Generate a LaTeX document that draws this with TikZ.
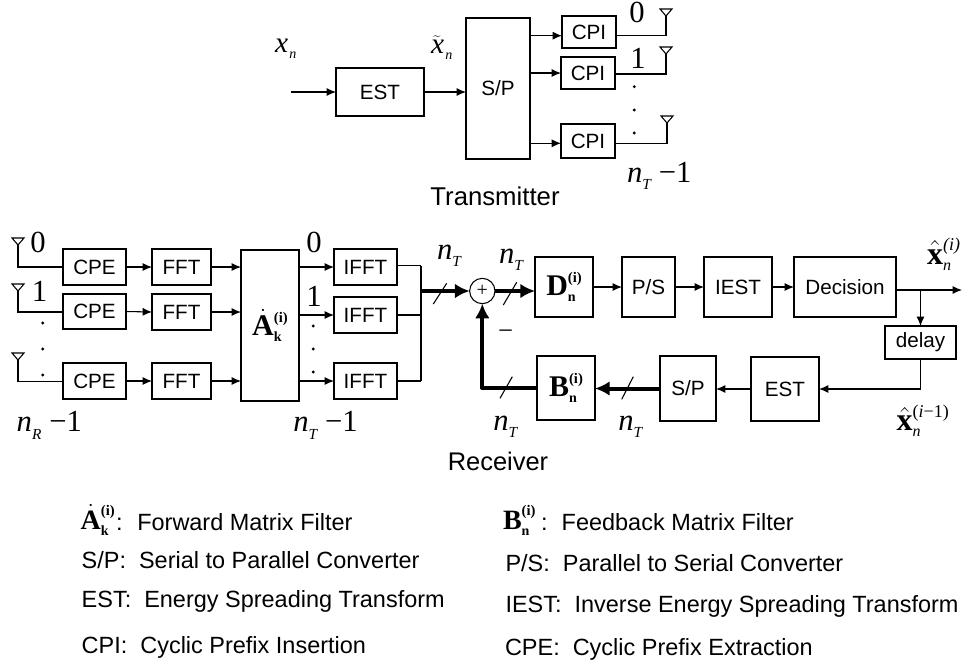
\documentclass[tikz,border=0pt]{standalone}
\usepackage{fontspec}
\setmainfont{Liberation Sans}
\newfontfamily\sr{Liberation Serif}
\usetikzlibrary{arrows.meta,calc}
\newcommand\fs[1]{\fontsize{#1}{#1}\selectfont}
% italic n with italic subscript
\newcommand\nsub[1]{{\sr\itshape\fs{23}n\raisebox{-5.5pt}{\fs{11.5}#1}}}
\newcommand\nm[1]{\nsub{#1}\kern6pt{\sr\fs{23}−1}}
\newcommand\xn{{\sr\itshape\fs{22}x\raisebox{-4.5pt}{\kern1pt\fs{10.5}n}}}
\newcommand\xt{{\sr\itshape\fs{22}$\widetilde{\mbox{x}}$\raisebox{-4.5pt}{\kern1pt\fs{10.5}n}}}
\newcommand\xh[1]{{\sr\bfseries\fs{24}$\hat{\mbox{x}}$\rlap{\raisebox{10pt}{\mdseries\fs{13.5}#1}}\raisebox{-4.5pt}{\mdseries\itshape\fs{12}n}}}
\newcommand\mat[3][22.5]{{\sr\bfseries\fs{#1}#2\rlap{\raisebox{-4.7pt}{\fs{10.5}#3}}\raisebox{10pt}{\fs{11}(i)}}}
\newcommand\dA{$\dot{\mbox{A}}$}
\newcommand\blk[6]{%
  \pgfmathsetmacro\bw{(#4-#2)*0.75}\pgfmathsetmacro\bh{(#5-#3)*0.75}%
  \pgfmathsetmacro\bx{(#2+#4)/2}\pgfmathsetmacro\by{(#3+#5)/2}%
  \node[blockbox,minimum width=\bw pt,minimum height=\bh pt] (#1) at (\bx,\by) {#6};}
\newcommand\antenna[1]{\draw[wire] (#1) -- ++(-6,-7) -- ++(12,0) -- cycle;}
\newcommand\tick[2]{\draw[wire] (#1) -- (#2);}
\begin{document}
\begin{tikzpicture}[x=0.75pt,y=-0.75pt,
  blockbox/.style={draw,line width=0.9pt,inner sep=0pt,outer sep=0pt,font=\fs{15.5},text=black},
  wire/.style={line width=0.8pt},
  arr/.style={wire,-{Latex[length=7pt,width=6pt]}},
  fat/.style={line width=3pt,line join=round,-{Latex[length=11pt,width=11pt]}},
  lab/.style={inner sep=0pt,outer sep=0pt,anchor=base west},
  ctr/.style={inner sep=0pt,outer sep=0pt,anchor=base},
  dotmark/.style={circle,fill=black,inner sep=0pt,minimum size=2.4pt},
  leg/.style={lab,font=\fs{17.6}},
  digit/.style={ctr,font=\sr\fs{23}}]
\useasboundingbox (0,0) rectangle (967,664);
% --- transmitter
\blk{tEst}{336}{68}{424}{116}{EST}
\blk{tSp}{466}{18}{530}{159}{S/P}
\blk{tc1}{562}{16}{616}{48}{CPI}
\blk{tc2}{561}{57}{615}{89}{CPI}
\blk{tc3}{561}{124}{615}{158}{CPI}
\coordinate (tIn) at (291,92);
\draw[arr] (tIn) -- (tEst.west);
\draw[arr] (tEst.east) -- (tEst.east -| tSp.west);
\draw[arr] (tSp.east |- 0,35.7) -- (tc1.west |- 0,35.7);
\draw[arr] (tSp.east |- tc2.west) -- (tc2.west);
\draw[arr] (tSp.east |- 0,143.3) -- (tc3.west |- 0,143.3);
\coordinate (ta1) at (666,16);
\coordinate (ta2) at (666,54);
\coordinate (ta3) at (667,123);
\draw[wire] (tc1.east |- 0,35.7) -| (ta1);
\draw[wire] (tc2.east |- 0,74) -| (ta2);
\draw[wire] (tc3.east |- 0,143.3) -| (ta3);
\antenna{ta1}\antenna{ta2}\antenna{ta3}
\node[digit] (tl0) at (637,22) {0};
\node[digit] (tl1) at (638,68) {1};
\node[dotmark] (td1) at (634.3,86.7) {};
\node[dotmark] (td2) at (634.3,110) {};
\node[dotmark] (td3) at (634.3,133) {};
\node[lab] (tn) at (627,182) {\nm{T}};
\node[lab] (tx) at (275,52) {\xn};
\node[lab] (txt) at (431,53) {\xt};
\node[ctr,font=\fs{19.3}] (tCap) at (495,205) {Transmitter};
% --- receiver, front end
\blk{c1}{63}{249}{126}{285}{CPE}
\blk{c2}{63}{294}{126}{329}{CPE}
\blk{c3}{63}{363}{126}{399}{CPE}
\blk{f1}{152}{249}{211}{285}{FFT}
\blk{f2}{152}{294}{211}{330}{FFT}
\blk{f3}{152}{363}{211}{399}{FFT}
\blk{mA}{241}{250}{299}{401}{\mat{\dA}{k}}
\blk{i1}{334}{249}{397}{285}{IFFT}
\blk{i2}{334}{297}{397}{333}{IFFT}
\blk{i3}{334}{363}{397}{399}{IFFT}
\coordinate (ra1) at (18,245);
\coordinate (ra2) at (18,291);
\coordinate (ra3) at (18,360);
\draw[wire] (ra1) |- (c1.west |- 0,267);
\draw[wire] (ra2) |- (c2.west |- 0,312);
\draw[wire] (ra3) |- (c3.west |- 0,381.7);
\antenna{ra1}\antenna{ra2}\antenna{ra3}
\foreach \k in {1,2,3}{
  \draw[arr] (c\k.east) -- (f\k.west);
  \draw[arr] (f\k.east) -- (f\k.east -| mA.west);
  \draw[arr] (i\k.west -| mA.east) -- (i\k.west);
}
\node[digit] (rl0) at (38,252) {0};
\node[digit] (rl1) at (39.5,301) {1};
\node[dotmark] (rd1) at (42.7,323) {};
\node[dotmark] (rd2) at (42.7,349) {};
\node[dotmark] (rd3) at (42.7,375) {};
\node[digit] (ml0) at (314,252) {0};
\node[digit] (ml1) at (314,306) {1};
\node[dotmark] (md1) at (313.3,326) {};
\node[dotmark] (md2) at (313.3,349) {};
\node[dotmark] (md3) at (313.3,372) {};
\node[lab] (rn) at (16.7,431.7) {\nm{R}};
\node[lab] (mn) at (293.3,431.7) {\nm{T}};
% bus and adder
\node[draw,circle,line width=0.8pt,minimum size=19pt,inner sep=0pt,outer sep=0pt,font=\sr\fs{15}] (add) at (482.3,291) {+};
\coordinate (bus) at (421.3,291);
\draw[wire] (i1.east |- 0,265.7) -- (bus |- 0,265.7);
\draw[wire] (i2.east) -- (bus |- i2.east);
\draw[wire] (i3.east) -- (bus |- i3.east);
\draw[line width=1.5pt] (bus |- 0,265.7) -- (bus |- i3.east);
\draw[fat] (bus) -- (add.west);
\tick{433.3,304}{446.7,283.3}
\node[lab] (n1) at (437,259) {\nsub{T}};
% --- forward path
\blk{mD}{535}{257}{593}{317}{\mat{D}{n}}
\blk{ps}{622}{257}{675}{317}{P/S}
\blk{ie}{704}{257}{772}{317}{IEST}
\blk{de}{794}{257}{896}{317}{Decision}
\blk{dl}{885}{326}{956}{359}{delay}
\blk{re}{751}{357}{819}{421}{EST}
\blk{rs}{660}{356}{716}{421}{S/P}
\blk{mB}{537}{356}{595}{420}{\mat{B}{n}}
\draw[fat] (add.east) -- (add.east -| mD.west);
\tick{503.3,305}{516.7,282.3}
\draw[arr] (mD.east) -- (ps.west);
\draw[arr] (ps.east) -- (ie.west);
\draw[arr] (ie.east) -- (de.west);
\coordinate (out) at (962,290);
\draw[arr] (de.east |- out) -- (out);
\draw[arr] (dl.north |- out) -- (dl.north);
\draw[arr] (dl.south) |- (re.east);
\draw[arr] (re.west) -- (re.west -| rs.east);
\draw[fat] (rs.west) -- (rs.west -| mB.east);
\tick{621.7,399.3}{633.3,376.7}
\draw[fat] (mB.west) -| (add.south);
\tick{500,398.3}{512.3,376.7}
\node[ctr,font=\sr\fs{20}] (minus) at (505.7,339) {−};
\node[lab] (n2) at (499,263) {\nsub{T}};
\node[lab] (n3) at (493.3,430) {\nsub{T}};
\node[lab] (n4) at (618.3,430) {\nsub{T}};
\node[lab] (xo) at (927,264) {\xh{\itshape(i)}};
\node[lab] (xf) at (896.7,430.5) {\xh{(\textit{i}−1)}};
\node[ctr,font=\fs{19.1}] (rCap) at (498,470) {Receiver};
% --- legend
\node[lab] (la) at (80.7,529) {\mat[21]{\dA}{k}};
\node[leg] (lac) at (116,530) {:};
\node[leg] (lat) at (137.3,530) {Forward Matrix Filter};
\node[leg] (lb) at (81.7,568) {S/P:\ \ Serial to Parallel Converter};
\node[leg] (lc) at (81.7,607) {EST:\ \ Energy Spreading Transform};
\node[leg] (ld) at (81.7,653) {CPI:\ \ Cyclic Prefix Insertion};
\node[lab] (le) at (503,529) {\mat[21]{B}{n}};
\node[leg] (lec) at (541,530) {:};
\node[leg] (let) at (561.7,530) {Feedback Matrix Filter};
\node[leg] (lf) at (505.5,571.7) {P/S:\ \ Parallel to Serial Converter};
\node[leg] (lg) at (505.5,612.7) {IEST:\ \ Inverse Energy Spreading Transform};
\node[leg] (lh) at (505,655) {CPE:\ \ Cyclic Prefix Extraction};
\end{tikzpicture}
\end{document}
